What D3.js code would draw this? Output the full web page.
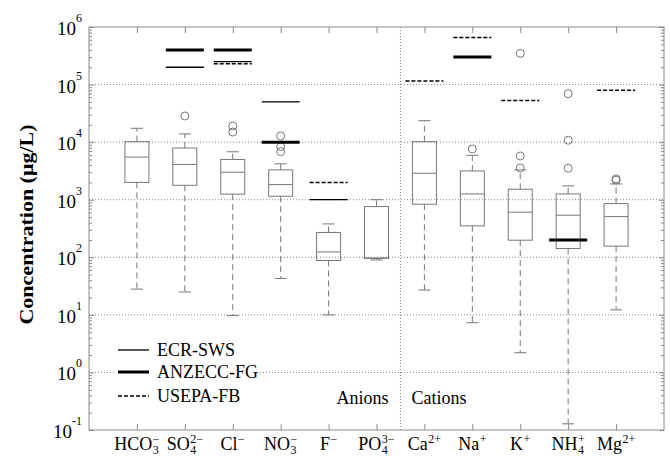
<!DOCTYPE html>
<html>
<head>
<meta charset="utf-8">
<script src="https://cdn.jsdelivr.net/npm/d3@7"></script>
<style>
  body { margin: 0; background: #fff; }
  text { font-family: 'Liberation Serif', 'Times New Roman', serif; fill: #000; }
</style>
</head>
<body>
<svg id="chart" width="670" height="456"></svg>
<script>

// ions on the x axis, split into base text, subscript and superscript
var ions = [ 'HCO3-', 'SO4 2-', 'Cl-', 'NO3-', 'F-', 'PO4 3-', 'Ca2+', 'Na+', 'K+', 'NH4+', 'Mg2+' ];
var ionBase = [ 'HCO', 'SO', 'Cl', 'NO', 'F', 'PO', 'Ca', 'Na', 'K', 'NH', 'Mg' ];
var ionSub = [ '3', '4', '', '3', '', '4', '', '', '', '4', '' ];
var ionSup = [ '\u2212', '2\u2212', '\u2212', '\u2212', '\u2212', '3\u2212', '2+', '+', '+', '+', '2+' ];

// box plot statistics (µg/L)
var upperWhisker = [ 17400, 13900, 6800, 4200, 380, 1000, 23600, 5900, 3300, 1740, 1880 ];
var q3 = [ 10200, 7900, 5000, 3300, 270, 760, 10200, 3160, 1520, 1260, 855 ];
var median = [ 5500, 4100, 3000, 1830, 124, 97, 2880, 1260, 607, 538, 509 ];
var q1 = [ 2000, 1780, 1250, 1150, 88, 96, 835, 351, 198, 142, 156 ];
var lowerWhisker = [ 28, 25, 9.7, 43, 10, 90, 27, 7.3, 2.2, 0.128, 12.2 ];
var outliers = [ [], [ 28500 ], [ 19100, 15000 ], [ 12800, 8350, 6840 ], [], [], [], [ 7600 ],
  [ 349000, 5760, 3560 ], [ 69500, 10800, 3520 ], [ 2300, 2180 ] ];

// guideline values (µg/L), null = no guideline
var ecrSws = [ null, 200000, 250000, 50000, 1000, null, null, null, null, null, null ];
var anzeccFg = [ null, 400000, 400000, 10000, null, null, null, 300000, null, 200, null ];
var usepaFb = [ null, null, 230000, null, 2000, null, 115000, 660000, 53000, null, 80000 ];

var yExponents = [ -1, 0, 1, 2, 3, 4, 5, 6 ];

var svg = d3.select( '#chart' ),
  margin = { top: 27, right: 6, bottom: 26, left: 89 },
  width = +svg.attr( 'width' ),
  height = +svg.attr( 'height' );

var pLeft = margin.left, pRight = width - margin.right,
  pTop = margin.top, pBottom = height - margin.bottom;

var x = d3.scalePoint()
  .domain( ions )
  .range( [ pLeft, pRight ] )
  .padding( 1 );

var y = d3.scaleLog()
  .domain( [ 0.1, 1e6 ] )
  .range( [ pBottom, pTop ] );

var grey = '#777', frame = '#8a8a8a';

/* Grid */

svg.append( 'g' )
  .selectAll( 'line' )
  .data( yExponents.filter( e => e > -1 && e < 6 ) )
  .enter().append( 'line' )
    .attr( 'x1', pLeft ).attr( 'x2', pRight )
    .attr( 'y1', e => y( Math.pow( 10, e ) ) )
    .attr( 'y2', e => y( Math.pow( 10, e ) ) )
    .style( 'stroke', '#888' )
    .style( 'stroke-dasharray', '1,2' );

var divX = ( x( ions[ 5 ] ) + x( ions[ 6 ] ) ) / 2;
svg.append( 'line' )
  .attr( 'x1', divX ).attr( 'x2', divX )
  .attr( 'y1', pTop ).attr( 'y2', pBottom )
  .style( 'stroke', '#888' )
  .style( 'stroke-dasharray', '1,2' );

/* Axes: ticks inside the frame */

var minor = [];
yExponents.forEach( e => {
  if ( e < 6 ) for ( var k = 2; k < 10; k++ ) minor.push( k * Math.pow( 10, e ) );
} );
var major = yExponents.map( e => Math.pow( 10, e ) );

function styleAxis( g ) {
  g.select( '.domain' ).remove();
  g.selectAll( '.tick line' ).style( 'stroke', frame );
}

svg.append( 'g' )
  .attr( 'transform', 'translate(' + pLeft + ',0)' )
  .call( d3.axisLeft( y ).tickValues( minor ).tickSize( -3 ).tickFormat( '' ) )
  .call( styleAxis );

svg.append( 'g' )
  .attr( 'transform', 'translate(' + pRight + ',0)' )
  .call( d3.axisRight( y ).tickValues( minor ).tickSize( -3 ).tickFormat( '' ) )
  .call( styleAxis );

svg.append( 'g' )
  .attr( 'transform', 'translate(' + pLeft + ',0)' )
  .call( d3.axisLeft( y ).tickValues( major ).tickSize( -5 ).tickFormat( '' ) )
  .call( styleAxis );

svg.append( 'g' )
  .attr( 'transform', 'translate(' + pRight + ',0)' )
  .call( d3.axisRight( y ).tickValues( major ).tickSize( -5 ).tickFormat( '' ) )
  .call( styleAxis );

svg.append( 'g' )
  .attr( 'transform', 'translate(0,' + pTop + ')' )
  .call( d3.axisTop( x ).tickSize( -6 ).tickFormat( '' ) )
  .call( styleAxis );

svg.append( 'g' )
  .attr( 'transform', 'translate(0,' + pBottom + ')' )
  .call( d3.axisBottom( x ).tickSize( -6 ).tickFormat( '' ) )
  .call( styleAxis );

svg.append( 'rect' )
  .attr( 'x', pLeft ).attr( 'y', pTop )
  .attr( 'width', pRight - pLeft ).attr( 'height', pBottom - pTop )
  .style( 'fill', 'none' )
  .style( 'stroke', frame );

// y tick labels 10^n
var yLab = svg.append( 'g' ).selectAll( 'text' )
  .data( yExponents )
  .enter().append( 'text' )
    .attr( 'x', 82 )
    .attr( 'y', e => y( Math.pow( 10, e ) ) + 8 )
    .attr( 'text-anchor', 'end' )
    .style( 'font-size', '19px' );
yLab.append( 'tspan' ).text( '10' );
yLab.append( 'tspan' )
  .attr( 'dy', -13 )
  .style( 'font-size', '12px' )
  .text( e => e );

svg.append( 'text' )
  .attr( 'transform', 'translate(33,' + ( ( pTop + pBottom ) / 2 - 4 ) + ') scale(0.88,1) rotate(-90)' )
  .attr( 'text-anchor', 'middle' )
  .style( 'font-size', '22px' )
  .style( 'font-weight', 'bold' )
  .text( 'Concentration (\u03bcg/L)' );

// x labels with stacked sub/superscripts
ions.forEach( ( d, i ) => {
  var g = svg.append( 'g' );
  var base = g.append( 'text' )
    .attr( 'x', 0 ).attr( 'y', 0 )
    .style( 'font-size', '18px' )
    .text( ionBase[ i ] );
  var bw = base.node().getComputedTextLength();
  var sup = g.append( 'text' )
    .attr( 'x', bw + 0.5 ).attr( 'y', -7 )
    .style( 'font-size', '12px' )
    .text( ionSup[ i ] );
  var sub = g.append( 'text' )
    .attr( 'x', bw + 0.5 ).attr( 'y', 4 )
    .style( 'font-size', '12px' )
    .text( ionSub[ i ] );
  var tw = bw + 0.5 + Math.max( sup.node().getComputedTextLength(), sub.node().getComputedTextLength() );
  g.attr( 'transform', 'translate(' + ( x( d ) - tw / 2 ) + ',450)' );
} );

/* Boxes */

var boxW = 24, capW = 12, lineW = 38;

var box = svg.append( 'g' ).selectAll( 'g' )
  .data( ions )
  .enter().append( 'g' );

box.append( 'line' )
  .attr( 'x1', d => x( d ) ).attr( 'x2', d => x( d ) )
  .attr( 'y1', ( d, i ) => y( q3[ i ] ) )
  .attr( 'y2', ( d, i ) => y( upperWhisker[ i ] ) )
  .style( 'stroke', grey )
  .style( 'stroke-dasharray', '6,4' );

box.append( 'line' )
  .attr( 'x1', d => x( d ) ).attr( 'x2', d => x( d ) )
  .attr( 'y1', ( d, i ) => y( q1[ i ] ) )
  .attr( 'y2', ( d, i ) => y( lowerWhisker[ i ] ) )
  .style( 'stroke', grey )
  .style( 'stroke-dasharray', '6,4' );

[ upperWhisker, lowerWhisker ].forEach( arr => {
  box.append( 'line' )
    .attr( 'x1', d => x( d ) - capW / 2 ).attr( 'x2', d => x( d ) + capW / 2 )
    .attr( 'y1', ( d, i ) => y( arr[ i ] ) )
    .attr( 'y2', ( d, i ) => y( arr[ i ] ) )
    .style( 'stroke', grey );
} );

box.append( 'rect' )
  .attr( 'x', d => x( d ) - boxW / 2 )
  .attr( 'width', boxW )
  .attr( 'y', ( d, i ) => y( q3[ i ] ) )
  .attr( 'height', ( d, i ) => y( q1[ i ] ) - y( q3[ i ] ) )
  .style( 'fill', 'none' )
  .style( 'stroke', grey );

box.append( 'line' )
  .attr( 'x1', d => x( d ) - boxW / 2 ).attr( 'x2', d => x( d ) + boxW / 2 )
  .attr( 'y1', ( d, i ) => y( median[ i ] ) )
  .attr( 'y2', ( d, i ) => y( median[ i ] ) )
  .style( 'stroke', grey );

box.selectAll( 'circle' )
  .data( ( d, i ) => outliers[ i ].map( v => ( { ion: d, v: v } ) ) )
  .enter().append( 'circle' )
    .attr( 'cx', o => x( o.ion ) )
    .attr( 'cy', o => y( o.v ) )
    .attr( 'r', 4 )
    .style( 'fill', 'none' )
    .style( 'stroke', grey );

/* Guidelines */

var guides = [
  { name: 'ECR-SWS', values: ecrSws, w: 1.3, dash: null },
  { name: 'ANZECC-FG', values: anzeccFg, w: 3, dash: null },
  { name: 'USEPA-FB', values: usepaFb, w: 1.5, dash: '4,2' }
];

guides.forEach( gd => {
  svg.append( 'g' ).selectAll( 'line' )
    .data( ions.map( ( d, i ) => ( { ion: d, v: gd.values[ i ] } ) ).filter( o => o.v !== null ) )
    .enter().append( 'line' )
      .attr( 'x1', o => x( o.ion ) - lineW / 2 ).attr( 'x2', o => x( o.ion ) + lineW / 2 )
      .attr( 'y1', o => y( o.v ) ).attr( 'y2', o => y( o.v ) )
      .style( 'stroke', '#000' )
      .style( 'stroke-width', gd.w )
      .style( 'stroke-dasharray', gd.dash );
} );

/* Legend */

var legend = svg.append( 'g' ).selectAll( 'g' )
  .data( guides )
  .enter().append( 'g' )
    .attr( 'transform', ( d, i ) => 'translate(118,' + [ 350, 372, 396 ][ i ] + ')' );

legend.append( 'rect' )
  .attr( 'x', -2 ).attr( 'y', -9 )
  .attr( 'width', 136 ).attr( 'height', 20 )
  .style( 'fill', '#fff' );

legend.append( 'line' )
  .attr( 'x1', 0 ).attr( 'x2', 31 )
  .style( 'stroke', '#000' )
  .style( 'stroke-width', d => d.w )
  .style( 'stroke-dasharray', d => d.dash );

legend.append( 'text' )
  .attr( 'x', 39 ).attr( 'y', 6 )
  .style( 'font-size', '18px' )
  .text( d => d.name );

svg.append( 'text' )
  .attr( 'x', divX - 12 ).attr( 'y', 404 )
  .attr( 'text-anchor', 'end' )
  .style( 'font-size', '18px' )
  .text( 'Anions' );

svg.append( 'text' )
  .attr( 'x', divX + 11 ).attr( 'y', 404 )
  .style( 'font-size', '18px' )
  .text( 'Cations' );

</script>
</body>
</html>
